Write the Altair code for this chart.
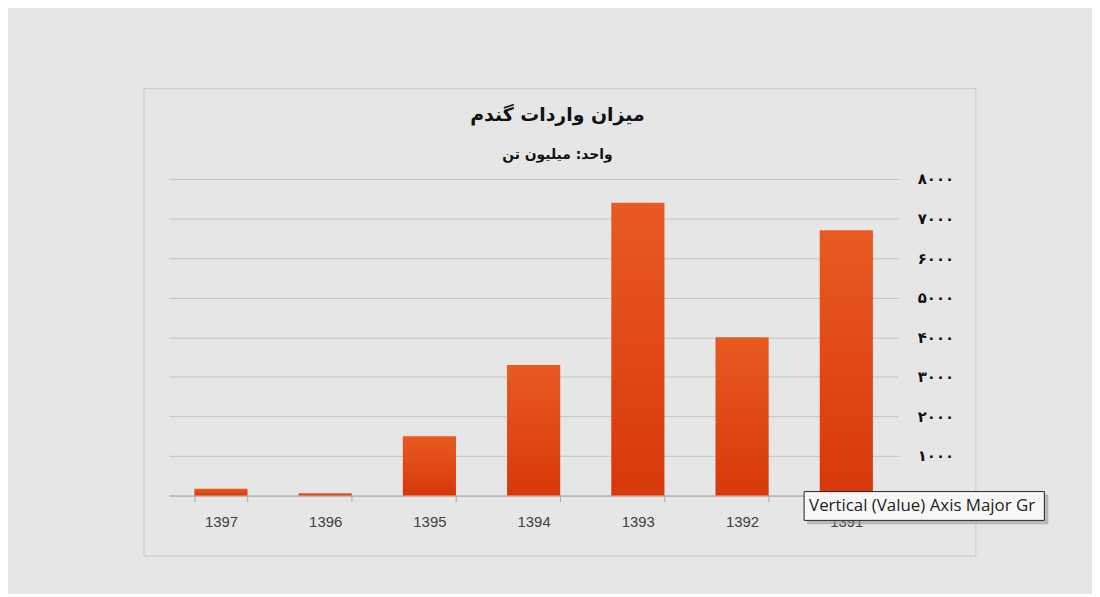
import altair as alt
import pandas as pd

years = ['1397', '1396', '1395', '1394', '1393', '1392', '1391']
values = [170, 60, 1500, 3300, 7400, 4000, 6700]
y_ticks = [0, 1000, 2000, 3000, 4000, 5000, 6000, 7000, 8000]
title_text = 'میزان واردات گندم'
subtitle_text = 'واحد: میلیون تن'
tooltip_text = 'Vertical (Value) Axis Major Gr'

df = pd.DataFrame({'year': years, 'value': values})
one = pd.DataFrame({'a': [0]})

gradient = alt.Gradient(
    gradient='linear', x1=0, y1=0, x2=0, y2=1,
    stops=[alt.GradientStop(color='#e85a22', offset=0),
           alt.GradientStop(color='#d8380a', offset=1)]
)

label_expr = ("datum.value == 0 ? '' : "
              "['۰','۱','۲','۳','۴','۵','۶','۷','۸','۹'][datum.value/1000] + '۰۰۰'")

frame = alt.Chart(one).mark_rect(fillOpacity=0, stroke='#cfcfcf', strokeWidth=1.2).encode(
    x=alt.value(-25), x2=alt.value(813), y=alt.value(-91), y2=alt.value(380)
)

bars = alt.Chart(df).mark_bar(color=gradient).encode(
    x=alt.X('year:N', sort=years,
            scale=alt.Scale(paddingInner=0.49, paddingOuter=0.245),
            axis=alt.Axis(title=None, labelAngle=0, labelFont='Liberation Sans',
                          labelFontSize=15, labelColor='#404040', labelPadding=13,
                          domainColor='#a8a8a8', tickColor='#a8a8a8', tickSize=6,
                          tickBand='extent', grid=False)),
    y=alt.Y('value:Q', scale=alt.Scale(domain=[0, 8000]),
            axis=alt.Axis(title=None, orient='right', values=y_ticks, labelExpr=label_expr,
                          labelFont='DejaVu Sans', labelFontWeight='bold', labelFontSize=15,
                          labelColor='#111111', labelPadding=19, ticks=False, domain=False,
                          grid=True, gridColor='#c4c4c4', gridWidth=1))
)

shadow = alt.Chart(one).mark_rect(fill='#9a9a9a', opacity=0.6).encode(
    x=alt.value(643), x2=alt.value(886), y=alt.value(318), y2=alt.value(348)
)
box = alt.Chart(one).mark_rect(fill='#f7f7f7', stroke='#222222', strokeWidth=1).encode(
    x=alt.value(640), x2=alt.value(882), y=alt.value(315), y2=alt.value(344)
)
tip = alt.Chart(one).mark_text(text=tooltip_text, align='left', baseline='middle',
                               font='Open Sans', fontSize=17, color='#222222').encode(
    x=alt.value(645), y=alt.value(330)
)

chart = alt.layer(frame, bars, shadow, box, tip).properties(
    width=735, height=319,
    background='#e6e6e6',
    padding={'left': 162, 'top': 170, 'right': 195, 'bottom': 97},
    autosize=alt.AutoSizeParams(type='none'),
    title=alt.TitleParams(text=title_text, subtitle=subtitle_text, anchor='middle',
                          frame='group', dx=24, offset=-75,
                          font='DejaVu Sans', fontSize=19, fontWeight='bold', color='#111111',
                          subtitleFont='DejaVu Sans', subtitleFontSize=14,
                          subtitleFontWeight='bold', subtitleColor='#111111',
                          subtitlePadding=24)
).configure_view(stroke=None)

chart.save('out.html', embed_options={'renderer': 'svg', 'actions': False})
